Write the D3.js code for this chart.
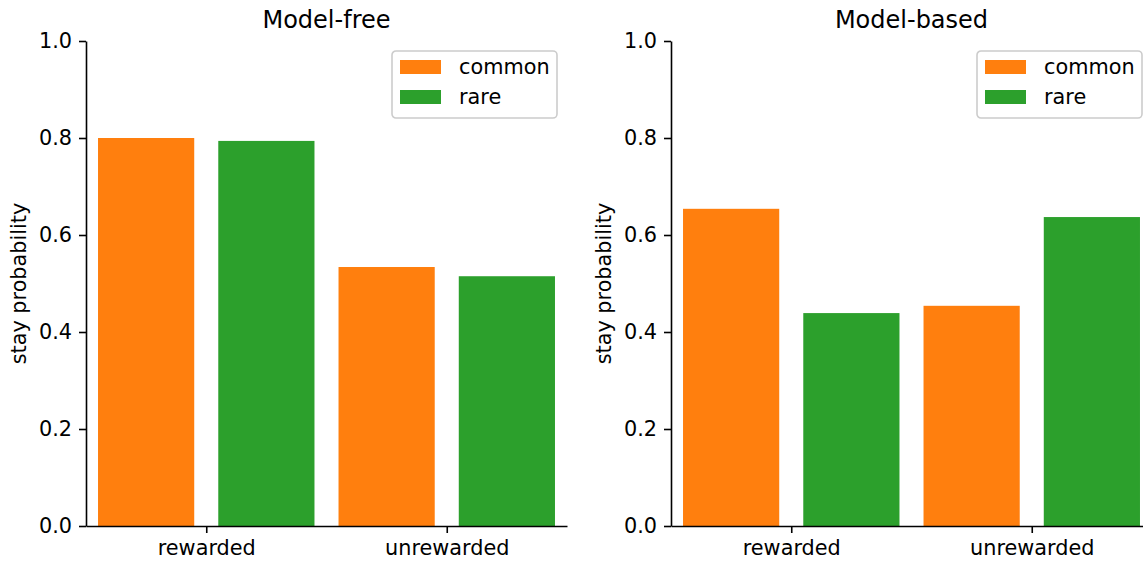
<!DOCTYPE html>
<html>
<head>
<meta charset="utf-8">
<script src="https://cdn.jsdelivr.net/npm/d3@7"></script>
<style>
  html, body { margin: 0; padding: 0; background: #fff; }
  svg { display: block; font-family: 'DejaVu Sans', sans-serif; }
</style>
</head>
<body>
<div id="chart"></div>
<script>
// ── Data ────────────────────────────────────────────────────────────────────
const categories = ['rewarded', 'unrewarded'];
const series     = ['common', 'rare'];
const colors     = ['#ff7f0e', '#2ca02c'];

const panelTitles = ['Model-free', 'Model-based'];

// stay probability per panel, per series, per category
const modelFreeCommon  = [0.800, 0.534];
const modelFreeRare    = [0.794, 0.515];
const modelBasedCommon = [0.654, 0.454];
const modelBasedRare   = [0.439, 0.637];

const yTicks = [0, 0.2, 0.4, 0.6, 0.8, 1.0];

const panels = [
  { title: panelTitles[0], values: [modelFreeCommon, modelFreeRare] },
  { title: panelTitles[1], values: [modelBasedCommon, modelBasedRare] },
];

// ── Layout ─────────────────────────────────────────────────────────────────
const W = 1143, H = 562;
const TOP = 41, BOTTOM = 526;
const PANEL_LEFT = [86, 671];
const PANEL_W = 481;
const FS = 20.8;

const svg = d3.select('#chart').append('svg')
  .attr('width', W).attr('height', H)
  .attr('viewBox', `0 0 ${W} ${H}`);

const y = d3.scaleLinear().domain([0, 1]).range([BOTTOM, TOP]);

panels.forEach((p, pi) => {
  const left = PANEL_LEFT[pi];
  const x = d3.scaleLinear().domain([-0.5, 3.5]).range([left, left + PANEL_W]);
  const barW = x(0.8) - x(0);

  const g = svg.append('g');

  // bars: category i, series j sit at position 2*i + j
  const bars = [];
  categories.forEach((c, i) => {
    series.forEach((s, j) => {
      bars.push({ pos: 2 * i + j, v: p.values[j][i], color: colors[j] });
    });
  });

  g.selectAll('rect.bar')
    .data(bars)
    .join('rect')
    .attr('class', 'bar')
    .attr('x', d => x(d.pos) - barW / 2)
    .attr('width', barW)
    .attr('y', d => y(d.v))
    .attr('height', d => y(0) - y(d.v))
    .attr('fill', d => d.color);

  // y axis
  const yAxis = d3.axisLeft(y)
    .tickValues(yTicks)
    .tickFormat(d3.format('.1f'))
    .tickSizeInner(7).tickSizeOuter(0).tickPadding(7);

  const ya = g.append('g')
    .attr('transform', `translate(${left},0)`)
    .call(yAxis);

  // x axis
  const xAxis = d3.axisBottom(x)
    .tickValues(categories.map((c, i) => 2 * i + 0.5))
    .tickFormat((d, i) => categories[i])
    .tickSizeInner(7).tickSizeOuter(0).tickPadding(7);

  const xa = g.append('g')
    .attr('transform', `translate(0,${BOTTOM})`)
    .call(xAxis);

  [ya, xa].forEach(a => {
    a.selectAll('path.domain').attr('stroke', '#000').attr('stroke-width', 1.6);
    a.selectAll('.tick line').attr('stroke', '#000').attr('stroke-width', 1.6);
    a.selectAll('.tick text')
      .attr('fill', '#000')
      .style('font-family', "'DejaVu Sans', sans-serif")
      .style('font-size', FS + 'px');
  });

  // y label
  g.append('text')
    .attr('transform', `translate(${left - 60},${(TOP + BOTTOM) / 2}) rotate(-90)`)
    .attr('text-anchor', 'middle')
    .attr('font-size', FS)
    .text('stay probability');

  // title
  g.append('text')
    .attr('x', left + PANEL_W / 2)
    .attr('y', TOP - 13)
    .attr('text-anchor', 'middle')
    .attr('font-size', 24)
    .text(p.title);

  // legend
  const legRight = left + PANEL_W - 10;
  const legW = 165, legH = 67;
  const lg = g.append('g').attr('transform', `translate(${legRight - legW},51)`);
  lg.append('rect')
    .attr('width', legW).attr('height', legH)
    .attr('rx', 4)
    .attr('fill', 'rgba(255,255,255,0.8)')
    .attr('stroke', '#cccccc')
    .attr('stroke-width', 1.6);

  series.forEach((s, j) => {
    const row = lg.append('g').attr('transform', `translate(8,${9 + j * 30})`);
    row.append('rect')
      .attr('width', 41).attr('height', 14)
      .attr('fill', colors[j]);
    row.append('text')
      .attr('x', 59)
      .attr('y', 7)
      .attr('dy', '0.35em')
      .attr('font-size', FS)
      .text(s);
  });
});
</script>
</body>
</html>
